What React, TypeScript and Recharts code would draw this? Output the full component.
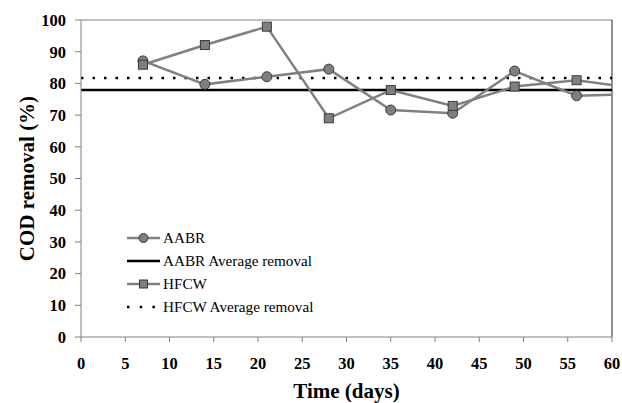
import { LineChart, Line, XAxis, YAxis, ReferenceLine, Label } from 'recharts';

const days = [7, 14, 21, 28, 35, 42, 49, 56, 63];
const aabrRemoval = [87.1, 79.7, 82.1, 84.5, 71.6, 70.6, 83.9, 76.1, 76.6];
const hfcwRemoval = [85.9, 92.1, 97.9, 69.0, 77.9, 72.9, 79.0, 81.0, 78.4];
const aabrAverage = 77.9;
const hfcwAverage = 81.7;
const xTicks = [0, 5, 10, 15, 20, 25, 30, 35, 40, 45, 50, 55, 60];
const yTicks = [0, 10, 20, 30, 40, 50, 60, 70, 80, 90, 100];

const data = days.map((day, i) => ({ day, aabr: aabrRemoval[i], hfcw: hfcwRemoval[i] }));

const FONT = '"Liberation Serif", "Times New Roman", serif';
const GREY = '#808080';
const MARKER = '#7f7f7f';
const MARKER_EDGE = '#3a3a3a';

const SquareDot = (props: any) => {
  const { cx, cy, index } = props;
  if (cx == null || cy == null) return null;
  return <rect key={`sq-${index}`} x={cx - 4.5} y={cy - 4.5} width={9} height={9} fill={MARKER} stroke={MARKER_EDGE} strokeWidth={1} />;
};

const CircleDot = (props: any) => {
  const { cx, cy, index } = props;
  if (cx == null || cy == null) return null;
  return <circle key={`ci-${index}`} cx={cx} cy={cy} r={5} fill={MARKER} stroke={MARKER_EDGE} strokeWidth={1} />;
};

const legendItems = [
  { label: 'AABR', kind: 'circle' },
  { label: 'AABR Average removal', kind: 'solid' },
  { label: 'HFCW', kind: 'square' },
  { label: 'HFCW Average removal', kind: 'dotted' },
];

// legend sits inside the plot, lower left
const LegendBox = () => (
  <div style={{ position: 'absolute', left: 127, top: 226, fontFamily: FONT, fontSize: 15.2, color: '#000' }}>
    {legendItems.map((item) => (
      <div key={item.label} style={{ display: 'flex', alignItems: 'center', height: 23 }}>
        <svg width={34} height={14} style={{ marginRight: 2 }}>
          {item.kind === 'circle' && (
            <>
              <line x1={0} y1={7} x2={33} y2={7} stroke={GREY} strokeWidth={2.5} />
              <circle cx={16.5} cy={7} r={4.5} fill={MARKER} stroke={MARKER_EDGE} strokeWidth={1} />
            </>
          )}
          {item.kind === 'square' && (
            <>
              <line x1={0} y1={7} x2={33} y2={7} stroke={GREY} strokeWidth={2.5} />
              <rect x={12.5} y={3} width={8} height={8} fill={MARKER} stroke={MARKER_EDGE} strokeWidth={1} />
            </>
          )}
          {item.kind === 'solid' && <line x1={0} y1={7} x2={33} y2={7} stroke="#000" strokeWidth={2.5} />}
          {item.kind === 'dotted' && (
            <line x1={0} y1={7} x2={33} y2={7} stroke="#000" strokeWidth={2.5} strokeDasharray="2.5 10.2" />
          )}
        </svg>
        <span>{item.label}</span>
      </div>
    ))}
  </div>
);

export default function App() {
  return (
    <div style={{ position: 'absolute', left: 0, top: 0, width: 622, height: 403, background: '#fff' }}>
      <LineChart width={622} height={403} data={data} margin={{ top: 20, right: 10, bottom: 16, left: 31 }}>
        <XAxis
          dataKey="day"
          type="number"
          domain={[0, 60]}
          ticks={xTicks}
          allowDataOverflow
          stroke={GREY}
          tickSize={5}
          tickMargin={15}
          height={50}
          tick={{ fill: '#000', fontFamily: FONT, fontSize: 16.5, fontWeight: 'bold' }}
        >
          <Label value="Time (days)" position="insideBottom" offset={-11} style={{ fill: '#000', fontFamily: FONT, fontSize: 21, fontWeight: 'bold' }} />
        </XAxis>
        <YAxis
          type="number"
          domain={[0, 100]}
          ticks={yTicks}
          allowDataOverflow
          stroke={GREY}
          tickSize={6}
          tickMargin={9}
          width={50}
          tick={{ fill: '#000', fontFamily: FONT, fontSize: 16.5, fontWeight: 'bold' }}
        >
          <Label
            value="COD removal (%)"
            angle={-90}
            position="insideLeft"
            offset={-4}
            style={{ textAnchor: 'middle', fill: '#000', fontFamily: FONT, fontSize: 21, fontWeight: 'bold' }}
          />
        </YAxis>
        <ReferenceLine y={100} stroke={GREY} strokeWidth={1} />
        <ReferenceLine x={60} stroke="#222" strokeWidth={1} />
        <ReferenceLine y={aabrAverage} stroke="#000" strokeWidth={2.5} />
        <ReferenceLine y={hfcwAverage} stroke="#000" strokeWidth={2.5} strokeDasharray="2.5 9" />
        <Line dataKey="aabr" stroke={GREY} strokeWidth={2.5} dot={CircleDot} isAnimationActive={false} />
        <Line dataKey="hfcw" stroke={GREY} strokeWidth={2.5} dot={SquareDot} isAnimationActive={false} />
      </LineChart>
      <LegendBox />
    </div>
  );
}
